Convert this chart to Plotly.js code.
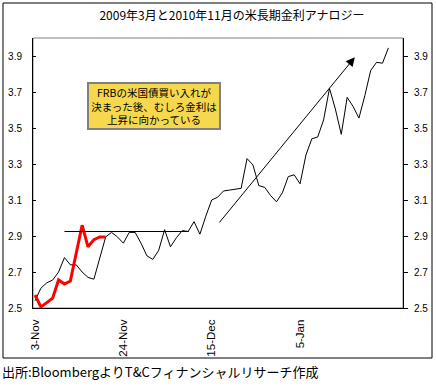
<!DOCTYPE html>
<html>
<head>
<meta charset="utf-8">
<script src="https://cdn.plot.ly/plotly-3.0.1.min.js"></script>
<style>html,body{margin:0;padding:0;background:#fff;}#chart{width:436px;height:386px;}</style>
</head>
<body>
<div id="chart"></div>
<script>
// Business-day categories (Nov 2010 - Jan 2011)
const dates = [
  '3-Nov','4-Nov','5-Nov','8-Nov','9-Nov','10-Nov','11-Nov','12-Nov','15-Nov','16-Nov',
  '17-Nov','18-Nov','19-Nov','22-Nov','23-Nov','24-Nov','25-Nov','26-Nov','29-Nov','30-Nov',
  '1-Dec','2-Dec','3-Dec','6-Dec','7-Dec','8-Dec','9-Dec','10-Dec','13-Dec','14-Dec',
  '15-Dec','16-Dec','17-Dec','20-Dec','21-Dec','22-Dec','23-Dec','24-Dec','27-Dec','28-Dec',
  '29-Dec','30-Dec','31-Dec','3-Jan','4-Jan','5-Jan','6-Jan','7-Jan','10-Jan','11-Jan',
  '12-Jan','13-Jan','14-Jan','17-Jan','18-Jan','19-Jan','20-Jan','21-Jan','24-Jan','25-Jan','26-Jan'
];
// 2009 analogue (black)
const yield2009 = [
  2.54, 2.61, 2.64, 2.655, 2.70, 2.78, 2.74, 2.74, 2.70, 2.67,
  2.66, 2.78, 2.895, 2.92, 2.895, 2.86, 2.92, 2.92, 2.86, 2.79,
  2.77, 2.82, 2.935, 2.84, 2.89, 2.93, 2.925, 2.98, 2.91, 3.01,
  3.10, 3.115, 3.15, 3.155, 3.16, 3.165, 3.33, 3.295, 3.18, 3.17,
  3.125, 3.09, 3.14, 3.23, 3.24, 3.19, 3.35, 3.44, 3.45, 3.545,
  3.72, 3.605, 3.465, 3.67, 3.62, 3.555, 3.68, 3.82, 3.865, 3.86, 3.945
];
// 2010 (red)
const yield2010 = [2.572, 2.506, 2.53, 2.555, 2.656, 2.633, 2.65, 2.80, 2.96, 2.84, 2.88, 2.895, 2.895];
const tickLabels = ['3-Nov','24-Nov','15-Dec','5-Jan'];
const yTicks = [2.5, 2.7, 2.9, 3.1, 3.3, 3.5, 3.7, 3.9];
// guide line (resistance level) and trend arrow, in data units
const resistance = {level: 2.925, from: 5, to: 26.1};
const trendArrow = {x0: 31.1, y0: 2.967, x1: 54.3, y1: 3.893};

const numFont = {family: 'Liberation Sans, Arial, sans-serif', size: 10, color: '#000'};
const jp = 'Noto Sans CJK JP, sans-serif';

const traces = [
  {x: dates, y: yield2009, type: 'scatter', mode: 'lines', line: {color: '#000', width: 1}, hoverinfo: 'skip'},
  {x: dates.slice(0, yield2010.length), y: yield2010, type: 'scatter', mode: 'lines', line: {color: '#FF0000', width: 3}, hoverinfo: 'skip'},
  {x: dates, y: yield2009, yaxis: 'y2', type: 'scatter', mode: 'lines', line: {width: 0}, opacity: 0, hoverinfo: 'skip'}
];

const layout = {
  width: 436, height: 386,
  margin: {l: 33, r: 33, t: 38, b: 78},
  paper_bgcolor: '#fff', plot_bgcolor: '#fff',
  showlegend: false,
  title: {text: '2009年3月と2010年11月の米長期金利アナロジー', font: {family: jp, size: 12, color: '#000'},
          x: 0.532, xref: 'container', xanchor: 'center', y: 0.9585, yref: 'container', yanchor: 'middle'},
  xaxis: {type: 'category', range: [-0.34, 62.48], tickmode: 'array', tickvals: tickLabels, ticktext: tickLabels,
          tickangle: -90, tickfont: {family: 'Liberation Sans, Arial, sans-serif', size: 11.5, color: '#000'},
          ticklabelstandoff: 6,
          showline: true, linecolor: '#000', linewidth: 1, ticks: '', showgrid: false, zeroline: false, fixedrange: true},
  yaxis: {range: [2.5, 4.0], tickvals: yTicks, ticktext: yTicks.map(v => v.toFixed(1)), tickfont: numFont,
          showline: true, linecolor: '#000', linewidth: 1, ticks: 'inside', ticklen: 3, tickcolor: '#000',
          ticklabelstandoff: 8, showgrid: false, zeroline: false, fixedrange: true},
  yaxis2: {range: [2.5, 4.0], overlaying: 'y', side: 'right', tickvals: yTicks, ticktext: yTicks.map(v => v.toFixed(1)), tickfont: numFont,
          showline: true, linecolor: '#000', linewidth: 1, ticks: 'outside', ticklen: 4, tickcolor: '#000',
          ticklabelstandoff: 4, showgrid: false, zeroline: false, fixedrange: true},
  shapes: [
    {type: 'rect', xref: 'paper', yref: 'paper', x0: 0, x1: 1, y0: 0, y1: 1, line: {color: '#808080', width: 1}, layer: 'below'},
    {type: 'rect', xref: 'paper', yref: 'paper', x0: -0.0811, x1: 1.0784, y0: -0.1852, y1: 1.1296, line: {color: '#000', width: 1}},
    {type: 'line', xref: 'x', yref: 'y', x0: resistance.from, x1: resistance.to, y0: resistance.level, y1: resistance.level, line: {color: '#000', width: 1}}
  ],
  annotations: [
    {xref: 'x', yref: 'y', x: trendArrow.x1, y: trendArrow.y1, axref: 'x', ayref: 'y', ax: trendArrow.x0, ay: trendArrow.y0,
     text: '', showarrow: true, arrowhead: 2, arrowsize: 1.8, arrowwidth: 1, arrowcolor: '#000'},
    {xref: 'paper', yref: 'paper', x: 0.327, y: 0.748, xanchor: 'center', yanchor: 'middle', showarrow: false,
     text: 'FRBの米国債買い入れが<br>決まった後、むしろ金利は<br>上昇に向かっている', align: 'center',
     font: {family: jp, size: 10.5, color: '#000'}, bgcolor: '#F5D84E', bordercolor: '#808080', borderwidth: 2,
     width: 128, height: 42},
    {xref: 'paper', yref: 'paper', x: -0.0892, y: -0.237, xanchor: 'left', yanchor: 'middle', showarrow: false,
     text: '出所:BloombergよりT&amp;Cフィナンシャルリサーチ作成', font: {family: jp, size: 13, color: '#000'}}
  ]
};

Plotly.newPlot('chart', traces, layout, {staticPlot: true, displayModeBar: false});
</script>
</body>
</html>
